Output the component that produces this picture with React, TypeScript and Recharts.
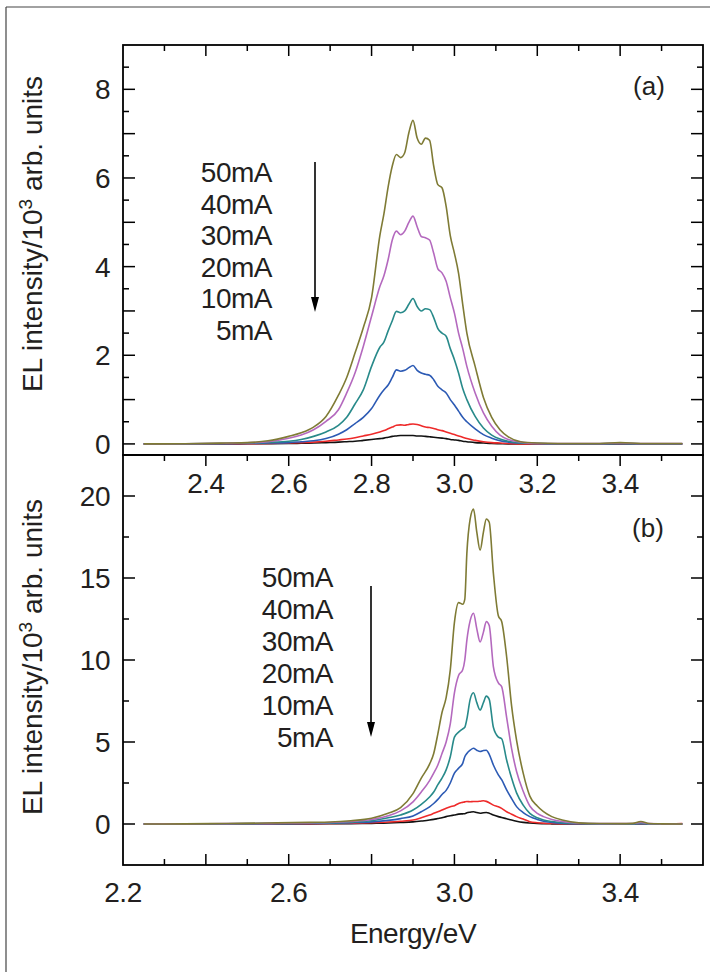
import { LineChart, Line, XAxis, YAxis } from "recharts";

// panel (a) energies (eV) and intensities (10^3 arb. units)
const energyA = [2.25, 2.35, 2.45, 2.5, 2.55, 2.6, 2.63, 2.66, 2.69, 2.72, 2.74, 2.76, 2.78, 2.8, 2.82, 2.83, 2.84, 2.85, 2.86, 2.87, 2.88, 2.89, 2.9, 2.91, 2.92, 2.93, 2.94, 2.95, 2.96, 2.97, 2.98, 2.99, 3.0, 3.01, 3.02, 3.03, 3.05, 3.07, 3.09, 3.11, 3.13, 3.16, 3.2, 3.25, 3.3, 3.35, 3.4, 3.45, 3.5, 3.55];
const a50 = [0, 0.005, 0.02, 0.03, 0.07, 0.17, 0.25, 0.38, 0.62, 1.1, 1.5, 2.05, 2.62, 3.3, 4.7, 5.2, 5.8, 6.27, 6.53, 6.46, 6.57, 7.02, 7.3, 6.9, 6.76, 6.9, 6.85, 6.27, 5.85, 5.78, 5.36, 4.7, 4.3, 3.85, 3.15, 2.5, 1.75, 1.05, 0.6, 0.32, 0.16, 0.05, 0.02, 0.01, 0.01, 0.01, 0.03, 0.01, 0.01, 0.01];
const a40 = [0, 0.004, 0.015, 0.025, 0.05, 0.13, 0.2, 0.32, 0.51, 0.77, 1.15, 1.6, 2.2, 2.88, 3.55, 3.8, 4.16, 4.6, 4.8, 4.72, 4.8, 5.0, 5.14, 4.9, 4.68, 4.65, 4.6, 4.3, 3.95, 3.86, 3.67, 3.3, 2.95, 2.5, 2.15, 1.75, 1.15, 0.7, 0.4, 0.2, 0.1, 0.04, 0.01, 0.01, 0.01, 0.01, 0.02, 0.01, 0.01, 0.01];
const a30 = [0, 0.003, 0.01, 0.02, 0.035, 0.06, 0.1, 0.17, 0.27, 0.42, 0.6, 0.9, 1.22, 1.75, 2.18, 2.3, 2.55, 2.78, 2.99, 2.96, 3.0, 3.15, 3.28, 3.1, 3.0, 3.05, 3.03, 2.85, 2.6, 2.5, 2.43, 2.15, 1.9, 1.6, 1.25, 1.0, 0.62, 0.36, 0.2, 0.11, 0.06, 0.02, 0.01, 0.005, 0.005, 0.005, 0.01, 0.005, 0.005, 0.005];
const a20 = [0, 0.002, 0.005, 0.01, 0.02, 0.03, 0.05, 0.07, 0.12, 0.22, 0.32, 0.46, 0.6, 0.8, 1.1, 1.22, 1.33, 1.5, 1.67, 1.64, 1.66, 1.72, 1.77, 1.66, 1.6, 1.57, 1.55, 1.45, 1.3, 1.22, 1.15, 1.0, 0.88, 0.74, 0.6, 0.5, 0.34, 0.21, 0.13, 0.07, 0.04, 0.02, 0.01, 0.005, 0.005, 0.005, 0.005, 0.005, 0.005, 0.005];
const a10 = [0, 0, 0.002, 0.005, 0.01, 0.02, 0.03, 0.04, 0.06, 0.09, 0.11, 0.14, 0.18, 0.22, 0.27, 0.3, 0.34, 0.38, 0.42, 0.43, 0.42, 0.44, 0.45, 0.44, 0.41, 0.38, 0.37, 0.35, 0.32, 0.3, 0.27, 0.24, 0.21, 0.18, 0.15, 0.12, 0.08, 0.05, 0.03, 0.02, 0.01, 0, 0, 0, 0, 0, 0, 0, 0, 0];
const a5 = [0, 0, 0, 0.003, 0.005, 0.01, 0.015, 0.02, 0.03, 0.04, 0.05, 0.06, 0.08, 0.1, 0.12, 0.13, 0.15, 0.17, 0.18, 0.19, 0.19, 0.19, 0.19, 0.18, 0.18, 0.17, 0.16, 0.15, 0.14, 0.13, 0.12, 0.1, 0.09, 0.08, 0.06, 0.05, 0.03, 0.02, 0.01, 0.005, 0, 0, 0, 0, 0, 0, 0, 0, 0, 0];

// panel (b)
const energyB = [2.25, 2.35, 2.45, 2.55, 2.65, 2.7, 2.75, 2.8, 2.84, 2.87, 2.9, 2.92, 2.94, 2.95, 2.96, 2.97, 2.98, 2.99, 3.0, 3.01, 3.02, 3.025, 3.03, 3.038, 3.046, 3.054, 3.062, 3.07, 3.077, 3.084, 3.094, 3.106, 3.114, 3.126, 3.138, 3.15, 3.166, 3.182, 3.2, 3.215, 3.235, 3.26, 3.3, 3.35, 3.4, 3.43, 3.45, 3.47, 3.5, 3.55];
const b50 = [0, 0.01, 0.03, 0.06, 0.1, 0.12, 0.2, 0.35, 0.65, 1.0, 1.85, 2.8, 3.65, 4.3, 5.5, 6.8, 7.7, 9.4, 12.3, 13.5, 13.4, 13.7, 16.5, 18.6, 19.2, 17.8, 16.7, 17.8, 18.6, 18.4, 15.3, 12.7, 12.35, 10.2, 7.2, 5.1, 3.1, 1.7, 1.1, 0.75, 0.45, 0.24, 0.07, 0.03, 0.02, 0.04, 0.15, 0.03, 0.01, 0];
const b40 = [0, 0.01, 0.02, 0.04, 0.07, 0.09, 0.15, 0.27, 0.5, 0.8, 1.35, 1.95, 2.65, 3.1, 3.6, 4.3, 5.0, 6.1, 8.0, 9.05, 9.4, 10.0, 11.2, 12.4, 12.85, 11.9, 11.1, 11.7, 12.35, 12.1, 9.6, 8.6, 8.38, 6.5, 4.6, 3.2, 2.0, 1.1, 0.65, 0.45, 0.28, 0.15, 0.05, 0.02, 0.02, 0.03, 0.1, 0.02, 0.01, 0];
const b30 = [0, 0.005, 0.015, 0.03, 0.05, 0.07, 0.11, 0.2, 0.38, 0.55, 0.85, 1.2, 1.65, 1.95, 2.4, 2.8, 3.3, 4.1, 5.3, 5.6, 5.8, 5.9, 6.4, 7.6, 8.0, 7.4, 6.95, 7.4, 7.8, 7.6, 5.9, 5.3, 5.2, 3.9, 2.8, 1.9, 1.15, 0.65, 0.38, 0.25, 0.15, 0.08, 0.03, 0.01, 0.01, 0.01, 0.04, 0.01, 0, 0];
const b20 = [0, 0.003, 0.01, 0.02, 0.035, 0.05, 0.08, 0.13, 0.22, 0.33, 0.49, 0.75, 1.05, 1.25, 1.5, 1.8, 2.05, 2.5, 3.1, 3.4, 3.7, 4.1, 4.3, 4.5, 4.62, 4.5, 4.42, 4.48, 4.5, 4.25, 3.6, 3.0, 2.7, 2.08, 1.55, 1.06, 0.7, 0.45, 0.28, 0.17, 0.1, 0.05, 0.02, 0.01, 0.01, 0.01, 0.02, 0.01, 0, 0];
const b10 = [0, 0, 0.005, 0.01, 0.02, 0.03, 0.05, 0.08, 0.12, 0.17, 0.24, 0.38, 0.55, 0.65, 0.75, 0.85, 0.96, 1.05, 1.12, 1.25, 1.32, 1.35, 1.37, 1.36, 1.37, 1.37, 1.39, 1.42, 1.38, 1.3, 1.15, 1.05, 0.95, 0.75, 0.6, 0.45, 0.3, 0.14, 0.08, 0.05, 0.03, 0.02, 0.01, 0, 0, 0, 0, 0, 0, 0.02];
const b5 = [0, 0, 0, 0.005, 0.01, 0.015, 0.02, 0.04, 0.06, 0.09, 0.13, 0.18, 0.24, 0.28, 0.33, 0.38, 0.45, 0.5, 0.55, 0.6, 0.62, 0.63, 0.68, 0.72, 0.75, 0.7, 0.66, 0.69, 0.7, 0.66, 0.55, 0.45, 0.4, 0.32, 0.24, 0.17, 0.1, 0.06, 0.03, 0.02, 0.01, 0, 0, 0, 0, 0, 0, 0, 0, 0];

const currents = ["50mA", "40mA", "30mA", "20mA", "10mA", "5mA"];

const xTicks = [2.2, 2.3, 2.4, 2.5, 2.6, 2.7, 2.8, 2.9, 3.0, 3.1, 3.2, 3.3, 3.4, 3.5];
const xLabelsA = [2.4, 2.6, 2.8, 3.0, 3.2, 3.4];
const xLabelsB = [2.2, 2.6, 3.0, 3.4];
const yTicksA = [0, 0.5, 1, 1.5, 2, 2.5, 3, 3.5, 4, 4.5, 5, 5.5, 6, 6.5, 7, 7.5, 8, 8.5];
const yLabelsA = [0, 2, 4, 6, 8];
const yTicksB = [0, 2.5, 5, 7.5, 10, 12.5, 15, 17.5, 20];
const yLabelsB = [0, 5, 10, 15, 20];

const series = [
  { key: "i5", color: "#111111" },
  { key: "i10", color: "#ee2a2a" },
  { key: "i20", color: "#2c5ab4" },
  { key: "i30", color: "#288a8a" },
  { key: "i40", color: "#b469be" },
  { key: "i50", color: "#7f7b35" },
];

const dataA = energyA.map((e, i) => ({ e, i50: a50[i], i40: a40[i], i30: a30[i], i20: a20[i], i10: a10[i], i5: a5[i] }));
const dataB = energyB.map((e, i) => ({ e, i50: b50[i], i40: b40[i], i30: b30[i], i20: b20[i], i10: b10[i], i5: b5[i] }));

const FONT = "'Liberation Sans', Arial, sans-serif";
const INK = "#231f20";
const PW = 580; // plot width
const PH = 410; // plot height

const isEvenTenth = (v: number) => Math.round(v * 10) % 2 === 0;

// top panel x ticks: inward on top edge, labels under the bottom edge
const XTickA = (p: any) => {
  const v = p.payload.value;
  const len = isEvenTenth(v) ? 11 : 6;
  return (
    <g>
      {v > 2.2 && <line x1={p.x} x2={p.x} y1={p.y - PH} y2={p.y - PH + len} stroke="#000" strokeWidth={1.5} />}
      {xLabelsA.includes(v) && (
        <text x={p.x} y={p.y + 38} textAnchor="middle" fontSize={28} fontFamily={FONT} fill={INK} letterSpacing={-0.5}>
          {v.toFixed(1)}
        </text>
      )}
    </g>
  );
};

const XTickB = (p: any) => {
  const v = p.payload.value;
  const len = isEvenTenth(v) ? 11 : 6;
  return (
    <g>
      {v > 2.2 && <line x1={p.x} x2={p.x} y1={p.y} y2={p.y - len} stroke="#000" strokeWidth={1.5} />}
      {v > 2.2 && <line x1={p.x} x2={p.x} y1={p.y - PH} y2={p.y - PH + len} stroke="#000" strokeWidth={1.5} />}
      {xLabelsB.includes(v) && (
        <text x={p.x} y={p.y + 37} textAnchor="middle" fontSize={28} fontFamily={FONT} fill={INK} letterSpacing={-0.5}>
          {v.toFixed(1)}
        </text>
      )}
    </g>
  );
};

const makeYTick = (labels: number[], longStep: number) => (p: any) => {
  const v = p.payload.value;
  const len = Math.abs(v / longStep - Math.round(v / longStep)) < 1e-6 ? 12 : 6;
  return (
    <g>
      <line x1={p.x} x2={p.x + len} y1={p.y} y2={p.y} stroke="#000" strokeWidth={1.5} />
      <line x1={p.x + PW} x2={p.x + PW - len} y1={p.y} y2={p.y} stroke="#000" strokeWidth={1.5} />
      {labels.includes(v) && (
        <text x={p.x - 13} y={p.y + 10} textAnchor="end" fontSize={28} fontFamily={FONT} fill={INK} letterSpacing={-0.5}>
          {v}
        </text>
      )}
    </g>
  );
};

const YTickA = makeYTick(yLabelsA, 1);
const YTickB = makeYTick(yLabelsB, 5);

const YTitle = ({ cy }: { cy: number }) => (
  <text x={42} y={cy} transform={`rotate(-90 42 ${cy})`} textAnchor="middle" fontSize={28} fontFamily={FONT} fill={INK}>
    EL intensity/10
    <tspan dy={-10} fontSize={19}>3</tspan>
    <tspan dy={10}> arb. units</tspan>
  </text>
);

const Arrow = ({ x, y1, y2 }: { x: number; y1: number; y2: number }) => (
  <g>
    <line x1={x} x2={x} y1={y1} y2={y2 - 12} stroke="#000" strokeWidth={1.6} />
    <polygon points={`${x - 4},${y2 - 15} ${x + 4},${y2 - 15} ${x},${y2}`} fill="#000" />
  </g>
);

export default function App() {
  return (
    <div style={{ position: "absolute", left: 0, top: 0, width: 710, height: 972, background: "#fff" }}>
      <div style={{ position: "absolute", left: 0, top: 0 }}>
        <LineChart width={710} height={500} data={dataA} margin={{ top: 45, right: 7, bottom: 44, left: 122 }}>
          <XAxis dataKey="e" type="number" domain={[2.2, 3.6]} ticks={xTicks} interval={0} allowDataOverflow
            height={1} tickSize={0} tickMargin={0} axisLine={false} tickLine={false} tick={XTickA} />
          <YAxis type="number" domain={[-0.25, 9]} ticks={yTicksA} interval={0} allowDataOverflow
            width={1} tickSize={0} tickMargin={0} axisLine={false} tickLine={false} tick={YTickA} />
          {series.map((s) => (
            <Line key={s.key} dataKey={s.key} stroke={s.color} strokeWidth={1.6} dot={false} type="monotone" isAnimationActive={false} />
          ))}
        </LineChart>
      </div>
      <div style={{ position: "absolute", left: 0, top: 455 }}>
        <LineChart width={710} height={517} data={dataB} margin={{ top: 0, right: 7, bottom: 106, left: 122 }}>
          <XAxis dataKey="e" type="number" domain={[2.2, 3.6]} ticks={xTicks} interval={0} allowDataOverflow
            height={1} tickSize={0} tickMargin={0} axisLine={false} tickLine={false} tick={XTickB} />
          <YAxis type="number" domain={[-2.5, 22.5]} ticks={yTicksB} interval={0} allowDataOverflow
            width={1} tickSize={0} tickMargin={0} axisLine={false} tickLine={false} tick={YTickB} />
          {series.map((s) => (
            <Line key={s.key} dataKey={s.key} stroke={s.color} strokeWidth={1.6} dot={false} type="monotone" isAnimationActive={false} />
          ))}
        </LineChart>
      </div>
      <svg width={710} height={972} style={{ position: "absolute", left: 0, top: 0, pointerEvents: "none" }}>
        <line x1={6} x2={6} y1={7} y2={972} stroke="#444" strokeWidth={1.2} />
        <line x1={6} x2={710} y1={7} y2={7} stroke="#444" strokeWidth={1.2} />
        <rect x={123} y={45} width={PW} height={PH} fill="none" stroke="#000" strokeWidth={1.8} />
        <rect x={123} y={455} width={PW} height={PH} fill="none" stroke="#000" strokeWidth={1.8} />

        <YTitle cy={234} />
        <YTitle cy={657} />

        {currents.map((c, i) => (
          <text key={"a" + c} x={272} y={182 + i * 31.6} textAnchor="end" fontSize={28} fontFamily={FONT} fill={INK} letterSpacing={-0.5}>
            {c}
          </text>
        ))}
        {currents.map((c, i) => (
          <text key={"b" + c} x={333} y={587 + i * 32} textAnchor="end" fontSize={28} fontFamily={FONT} fill={INK} letterSpacing={-0.5}>
            {c}
          </text>
        ))}
        <Arrow x={315} y1={162} y2={312} />
        <Arrow x={371} y1={586} y2={737} />

        <text x={649} y={95} textAnchor="middle" fontSize={26} fontFamily={FONT} fill={INK}>(a)</text>
        <text x={648} y={537} textAnchor="middle" fontSize={26} fontFamily={FONT} fill={INK}>(b)</text>

        <text x={413} y={943} textAnchor="middle" fontSize={28} fontFamily={FONT} fill={INK} letterSpacing={-0.5}>
          Energy/eV
        </text>
      </svg>
    </div>
  );
}
